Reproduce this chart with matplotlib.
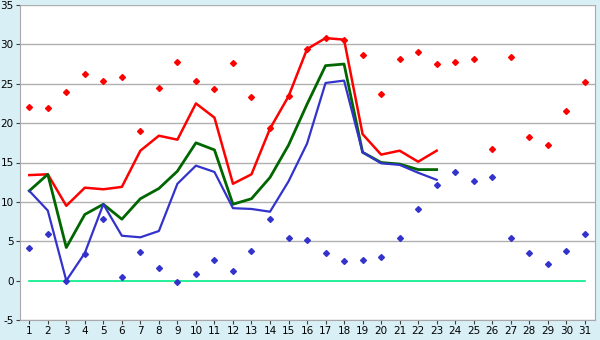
import matplotlib
matplotlib.use('Agg')
import matplotlib.pyplot as plt
import numpy as np

plt.rcParams['axes.unicode_minus'] = False

# ------ data ------
days = list(range(1, 32))
line_days = list(range(1, 24))

max_pts = [22.1, 21.9, 24.0, 26.2, 25.4, 25.9, 19.0, 24.4, 27.7, 25.4,
           24.3, 27.6, 23.3, 19.4, 23.4, 29.4, 30.8, 30.6, 28.6, 23.7,
           28.2, 29.0, 27.5, 27.8, 28.2, 16.7, 28.4, 18.2, 17.2, 21.6, 25.2]
min_pts = [4.2, 5.9, 0.0, 3.4, 7.8, 0.5, 3.6, 1.6, -0.2, 0.8,
           2.6, 1.2, 3.7, 7.8, 5.4, 5.1, 3.5, 2.5, 2.6, 3.0,
           5.4, 9.1, 12.1, 13.8, 12.6, 13.1, 5.4, 3.5, 2.1, 3.7, 5.9]

red_line = [13.4, 13.5, 9.5, 11.8, 11.6, 11.9, 16.5, 18.4, 17.9, 22.5,
            20.7, 12.3, 13.5, 19.3, 23.4, 29.4, 30.8, 30.6, 18.6, 16.0,
            16.5, 15.1, 16.5]
green_line = [11.4, 13.5, 4.2, 8.4, 9.7, 7.8, 10.4, 11.7, 13.9, 17.5,
              16.6, 9.7, 10.4, 13.1, 17.2, 22.4, 27.3, 27.5, 16.3, 15.0,
              14.8, 14.1, 14.1]
blue_line = [11.4, 8.9, 0.0, 3.5, 9.7, 5.7, 5.5, 6.3, 12.3, 14.6,
             13.8, 9.2, 9.1, 8.75, 12.6, 17.4, 25.1, 25.4, 16.3, 14.9,
             14.7, 13.7, 12.8]

yticks = list(range(-5, 36, 5))

#------ figure ------
fig = plt.figure(figsize=(6, 3.4), dpi=100, facecolor='#d9eff6')
ax = fig.add_axes([20/600, 20/340, 575/600, 315/340])
ax.set_facecolor('white')

for v in yticks:
    if v != 0:
        ax.axhline(v, color='#b0b0b0', linewidth=1, zorder=1)
ax.plot([days[0], days[-1]], [0, 0], color='#00ee88', linewidth=1.2, zorder=2)

ax.plot(line_days, red_line, color='#ff0000', linewidth=1.8, zorder=3)
ax.plot(line_days, green_line, color='#006600', linewidth=2.0, zorder=3)
ax.plot(line_days, blue_line, color='#3333cc', linewidth=1.6, zorder=3)

ax.plot(days, max_pts, linestyle='none', marker='D', markersize=3,
        color='#ff0000', zorder=4)
ax.plot(days, min_pts, linestyle='none', marker='D', markersize=3,
        color='#3333cc', zorder=4)

ax.set_xlim(0.5, 31.55)
ax.set_ylim(-5, 35)
ax.set_xticks(days)
ax.set_yticks(yticks)
ax.tick_params(axis='both', labelsize=7.5, length=3, color='#404040',
               labelcolor='black', pad=1.5)

for s in ['left', 'bottom', 'right', 'top']:
    ax.spines[s].set_color('#a8a8a8')
ax.spines['top'].set_visible(False)

fig.savefig('out.png', dpi=100, facecolor=fig.get_facecolor())
